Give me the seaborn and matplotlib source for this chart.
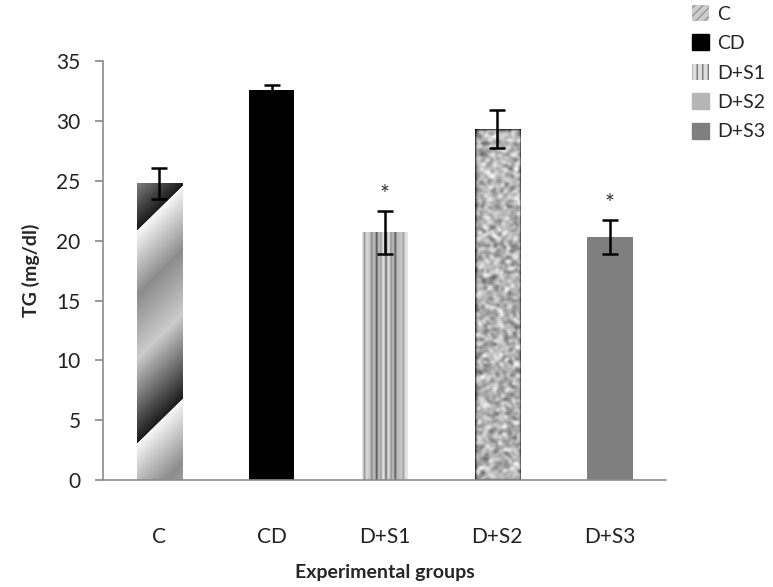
import numpy as np
import pandas as pd
import matplotlib
matplotlib.use("Agg")
import matplotlib.pyplot as plt
from matplotlib.patches import Patch
import seaborn as sns

groups = ["C", "CD", "D+S1", "D+S2", "D+S3"]
tg_mean = [24.8, 32.6, 20.7, 29.3, 20.3]
tg_err = [1.3, 0.4, 1.8, 1.6, 1.4]
signif = ["", "", "*", "", "*"]

df = pd.DataFrame({"group": groups, "tg": tg_mean})

sns.set_theme(style="white")
plt.rcParams["font.family"] = ["Lato", "DejaVu Sans"]

fig = plt.figure(figsize=(7.73, 5.87), dpi=100)
ax = fig.add_axes([0.133, 0.182, 0.729, 0.714])

sns.barplot(data=df, x="group", y="tg", color="black", width=0.4,
            errorbar=None, ax=ax, zorder=2)

bars = ax.patches
fills = ["#bbbbbb", "black", "#c8c8c8", "#aaaaaa", "#7f7f7f"]
for b, c in zip(bars, fills):
    b.set_facecolor(c)
    b.set_edgecolor("none")


def smooth(a, k=5):
    ker = np.ones(k) / k
    a = np.apply_along_axis(lambda r: np.convolve(r, ker, mode="same"), 1, a)
    a = np.apply_along_axis(lambda c: np.convolve(c, ker, mode="same"), 0, a)
    return a


# textures drawn inside the bars, clipped to the bar shape (pixel grid)
def texture(kind, h, w=45):
    yy, xx = np.mgrid[0:h, 0:w]
    if kind == "diag":
        t = ((xx + yy - 47) % 213) / 213.0
        return np.interp(t, [0, 0.3, 0.6, 1.0], [0.97, 0.55, 0.8, 0.1])
    if kind == "vert":
        base = 0.82 + 0.08 * np.cos(xx / w * 2 * np.pi * 2.0)
        lines = np.zeros(w)
        for c, d in [(2, 0.3), (9, 0.2), (14, 0.45), (18, 0.25), (23, 0.5),
                     (28, 0.25), (32, 0.4), (40, 0.2)]:
            lines += d * np.exp(-((np.arange(w) - c) / 1.1) ** 2)
        return np.clip(base - lines[None, :] + 0 * yy, 0, 1)
    if kind == "mottle":
        # hashed grain, blurred into blobs
        n = np.sin(xx * 12.9898 + yy * 78.233) * 43758.5453
        n = n - np.floor(n)
        n = smooth(smooth(n, 4), 3)
        n = (n - n.mean()) / n.std()
        return np.clip(0.68 + 0.13 * n, 0, 1)
    return None


kinds = ["diag", None, "vert", "mottle", None]
for b, k in zip(bars, kinds):
    if k is None:
        continue
    x0 = b.get_x()
    hpx = int(round(b.get_height() * 11.97))
    img = ax.imshow(texture(k, hpx), cmap="gray", vmin=0, vmax=1, aspect="auto",
                    extent=[x0, x0 + b.get_width(), 0, b.get_height()],
                    zorder=2.5, interpolation="bilinear")
    img.set_clip_path(b)

ax.errorbar(range(len(groups)), tg_mean, yerr=tg_err, fmt="none",
            ecolor="black", elinewidth=1.8, capsize=6, capthick=1.8, zorder=3)
for i, s in enumerate(signif):
    if s:
        ax.text(i, tg_mean[i] + tg_err[i] + 0.5, s, ha="center", va="bottom",
                fontsize=17, color="#333333")

ax.set_xlim(-0.5, 4.5)
ax.set_ylim(0, 35)
ax.set_yticks(range(0, 36, 5))
for side in ["top", "right"]:
    ax.spines[side].set_visible(False)
for side in ["left", "bottom"]:
    ax.spines[side].set_color("#8c8c8c")
    ax.spines[side].set_linewidth(1.2)
ax.tick_params(axis="y", direction="out", length=6, color="#8c8c8c",
               labelsize=15, labelcolor="#222222", pad=10, left=True)
ax.tick_params(axis="x", length=0, labelsize=15, labelcolor="#222222", pad=34)

ax.set_xlabel("Experimental groups", fontsize=14, fontweight="bold", labelpad=12)
ax.set_ylabel("TG (mg/dl)", fontsize=14, fontweight="bold", labelpad=12)

handles = [
    Patch(facecolor="#cccccc", edgecolor="#999999", hatch="////", linewidth=0),
    Patch(facecolor="black", edgecolor="black"),
    Patch(facecolor="#dddddd", edgecolor="#777777", hatch="|||", linewidth=0),
    Patch(facecolor="#b5b5b5", edgecolor="#b5b5b5"),
    Patch(facecolor="#7f7f7f", edgecolor="#7f7f7f"),
]
fig.legend(handles, groups, loc="upper left", bbox_to_anchor=(0.885, 1.005),
           frameon=False, fontsize=14, handlelength=0.9, handleheight=0.9,
           handletextpad=0.4, labelspacing=0.6, borderaxespad=0)

fig.savefig("out.png", dpi=100)
